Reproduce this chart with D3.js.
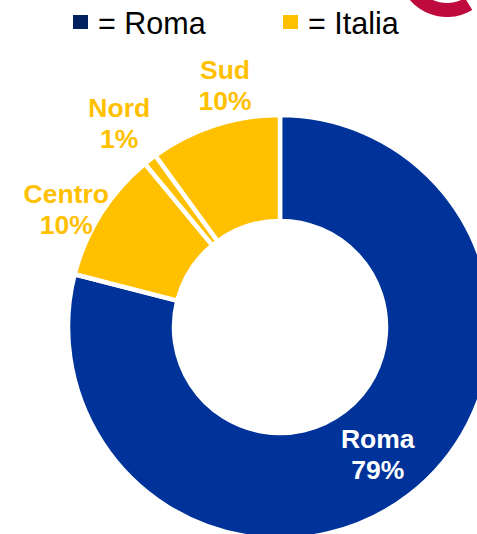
<!DOCTYPE html>
<html>
<head>
<meta charset="utf-8">
<title>Roma / Italia</title>
<script src="https://cdn.jsdelivr.net/npm/d3@7"></script>
<style>
body, html {
  margin: 0;
  padding: 0;
  background: #fff;
}
svg {
  display: block;
  font-family: "Liberation Sans", Arial, sans-serif;
}
</style>
</head>
<body>
<script>
// data
var categories = ["Roma", "Centro", "Nord", "Sud"];
var shares = [79, 10, 1, 10];
var groups = ["Roma", "Italia", "Italia", "Italia"];
var legendItems = ["Roma", "Italia"];

var W = 477, H = 534;
var cx = 280, cy = 327;
var outerR = 212, innerR = 106;

var colour = d3.scaleOrdinal()
  .domain(legendItems)
  .range(["#003399", "#FFC000"]);
var legendColour = d3.scaleOrdinal()
  .domain(legendItems)
  .range(["#002060", "#FFC000"]);

var svg = d3.select("body").append("svg")
  .attr("width", W)
  .attr("height", H);

// piece of the red logo in the top right corner
svg.append("path")
  .attr("transform", "translate(447,-32)")
  .attr("fill", "#BE0A3C")
  .attr("d", d3.arc().innerRadius(35).outerRadius(49).startAngle(2.6).endAngle(6.6)());

// legend
var legend = svg.append("g").attr("class", "legend");
var lx = d3.scalePoint().domain(legendItems).range([73, 283]);
legend.selectAll("rect")
  .data(legendItems)
  .enter().append("rect")
  .attr("x", function(d) { return lx(d); })
  .attr("y", 15)
  .attr("width", 15)
  .attr("height", 14)
  .attr("fill", function(d) { return legendColour(d); });
legend.selectAll("text")
  .data(legendItems)
  .enter().append("text")
  .attr("x", function(d) { return lx(d) + 25; })
  .attr("y", 34)
  .attr("font-size", "30.5px")
  .attr("fill", "#000")
  .text(function(d) { return "= " + d; });

// donut
var rows = categories.map(function(c, i) {
  return {name: c, value: shares[i], group: groups[i]};
});

var pie = d3.pie()
  .sort(null)
  .value(function(d) { return d.value; });

var arc = d3.arc()
  .innerRadius(innerR)
  .outerRadius(outerR);

var g = svg.append("g")
  .attr("transform", "translate(" + cx + "," + cy + ")");

var arcs = pie(rows);

g.selectAll("path")
  .data(arcs)
  .enter().append("path")
  .attr("d", arc)
  .attr("fill", function(d) { return colour(d.data.group); })
  .attr("stroke", "#fff")
  .attr("stroke-width", 4.5)
  .attr("stroke-linejoin", "miter");

// labels: Roma inside the ring, the others outside
var insideArc = d3.arc().innerRadius(166).outerRadius(166);
var outsideArc = d3.arc().innerRadius(246).outerRadius(246);
// small hand nudges, like the labels moved in the original
var labelNudge = {Roma: [-4, -4], Centro: [-6, 14], Nord: [-10, -10], Sud: [21, -8]};

var labels = g.selectAll("text.lbl")
  .data(arcs)
  .enter().append("text")
  .attr("class", "lbl")
  .attr("text-anchor", "middle")
  .attr("font-size", "26.5px")
  .attr("font-weight", "bold")
  .attr("fill", function(d) { return d.data.group == "Roma" ? "#fff" : "#FFC000"; })
  .attr("transform", function(d) {
    var p = (d.data.group == "Roma" ? insideArc : outsideArc).centroid(d);
    var n = labelNudge[d.data.name];
    return "translate(" + (p[0] + n[0]) + "," + (p[1] + n[1]) + ")";
  });

labels.append("tspan")
  .attr("x", 0)
  .attr("y", -6)
  .text(function(d) { return d.data.name; });
labels.append("tspan")
  .attr("x", 0)
  .attr("y", 25)
  .text(function(d) { return d.data.value + "%"; });
</script>
</body>
</html>
